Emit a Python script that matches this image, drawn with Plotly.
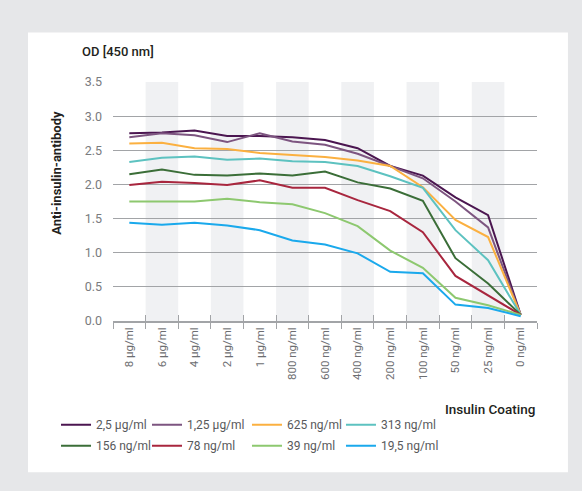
import plotly.graph_objects as go

categories = ["8 µg/ml", "6 µg/ml", "4 µg/ml", "2 µg/ml", "1 µg/ml", "800 ng/ml", "600 ng/ml",
              "400 ng/ml", "200 ng/ml", "100 ng/ml", "50 ng/ml", "25 ng/ml", "0 ng/ml"]

s_2_5ug = [2.75, 2.76, 2.79, 2.71, 2.71, 2.69, 2.65, 2.53, 2.27, 2.13, 1.81, 1.55, 0.09]
s_1_25ug = [2.69, 2.75, 2.72, 2.62, 2.75, 2.63, 2.58, 2.45, 2.27, 2.09, 1.75, 1.37, 0.09]
s_625ng = [2.60, 2.61, 2.53, 2.52, 2.46, 2.43, 2.40, 2.35, 2.27, 1.96, 1.48, 1.23, 0.09]
s_313ng = [2.33, 2.39, 2.41, 2.36, 2.38, 2.34, 2.33, 2.27, 2.12, 1.95, 1.33, 0.89, 0.09]
s_156ng = [2.15, 2.22, 2.14, 2.13, 2.16, 2.13, 2.19, 2.03, 1.94, 1.76, 0.92, 0.55, 0.09]
s_78ng = [1.99, 2.04, 2.02, 1.99, 2.06, 1.95, 1.95, 1.77, 1.61, 1.30, 0.66, 0.38, 0.09]
s_39ng = [1.75, 1.75, 1.75, 1.79, 1.74, 1.71, 1.58, 1.39, 1.03, 0.78, 0.34, 0.23, 0.09]
s_19_5ng = [1.44, 1.41, 1.44, 1.40, 1.33, 1.18, 1.12, 0.99, 0.72, 0.70, 0.24, 0.19, 0.07]

series_names = ["2,5 µg/ml", "1,25 µg/ml", "625 ng/ml", "313 ng/ml",
                "156 ng/ml", "78 ng/ml", "39 ng/ml", "19,5 ng/ml"]
series_values = [s_2_5ug, s_1_25ug, s_625ng, s_313ng, s_156ng, s_78ng, s_39ng, s_19_5ng]
series_colors = ["#4b1650", "#7d5580", "#fbb040", "#5dc2c0",
                 "#3b6e38", "#a8263e", "#8dc86f", "#1aa9ec"]

y_ticks = [0.0, 0.5, 1.0, 1.5, 2.0, 2.5, 3.0, 3.5]

FONT = "Roboto"
GRID = "#a2a4a7"
BG = "#e6e7e9"

# legend grid: 4 columns x 2 rows, one single-entry legend per series
legend_cols_x = [-0.1344, 0.0802, 0.316, 0.5377]
legend_rows_y = [-0.373, -0.461]

fig = go.Figure()
legend_layout = {}
for k, (name, vals, col) in enumerate(zip(series_names, series_values, series_colors)):
    lname = "legend" if k == 0 else f"legend{k + 1}"
    fig.add_trace(go.Scatter(x=categories, y=vals, name=name, mode="lines",
                             legend=lname, line=dict(color=col, width=2)))
    legend_layout[lname] = dict(
        x=legend_cols_x[k % 4], y=legend_rows_y[k // 4], xanchor="left", yanchor="top",
        orientation="v", font=dict(size=12, color="#58595b", family=FONT),
        bgcolor="rgba(0,0,0,0)")

# dummy trace on overlay axis for inner ticks
fig.add_trace(go.Scatter(x=categories, y=[None] * len(categories), xaxis="x2",
                         showlegend=False, hoverinfo="skip"))

shapes = [dict(type="rect", xref="paper", yref="paper", x0=-0.2005, x1=1.073,
               y0=-0.6326, y1=1.2066, fillcolor="white", line=dict(width=0), layer="below")]
for i in range(1, len(categories), 2):
    shapes.append(dict(type="rect", xref="x", yref="y", x0=i - 0.5, x1=i + 0.5,
                       y0=0, y1=3.5, fillcolor="#f0f1f3", line=dict(width=0), layer="below"))

fig.update_layout(
    width=582, height=491,
    margin=dict(l=113, r=45, t=82, b=170, autoexpand=False),
    paper_bgcolor=BG,
    plot_bgcolor="rgba(0,0,0,0)",
    font=dict(family=FONT, color="#58595b"),
    shapes=shapes,
    xaxis=dict(type="category", range=[-0.5, 12.5], showgrid=False, zeroline=False,
               showline=True, linecolor=GRID, linewidth=1.5,
               ticks="outside", ticklen=6, tickcolor=GRID, tickwidth=1.2,
               tickson="boundaries", tickangle=-90, automargin=False,
               tickfont=dict(size=11.5, color="#6d6e71", family=FONT)),
    xaxis2=dict(type="category", range=[-0.5, 12.5], overlaying="x", anchor="y",
                side="bottom", showgrid=False, zeroline=False, showline=False,
                ticks="inside", ticklen=6, tickcolor=GRID, tickwidth=1.2,
                tickson="boundaries", showticklabels=False),
    yaxis=dict(range=[0, 3.5], tickvals=y_ticks, ticktext=[f"{v:.1f}" for v in y_ticks],
               showgrid=True, gridcolor=GRID, gridwidth=1.2, zeroline=False,
               showline=False, ticks="", ticklabelstandoff=10, automargin=False,
               tickfont=dict(size=12.5, color="#7a7b7e", family=FONT)),
    showlegend=True,
    annotations=[
        dict(text="OD [450 nm]", xref="paper", yref="paper", x=-0.078, y=1.127,
             xanchor="left", yanchor="middle", showarrow=False,
             font=dict(size=13, color="#231f20", family=FONT, weight=500)),
        dict(text="<b>Anti-insulin-antibody</b>", xref="paper", yref="paper", x=-0.132, y=0.62,
             xanchor="center", yanchor="middle", textangle=-90, showarrow=False,
             font=dict(size=13, color="#231f20", family=FONT)),
        dict(text="Insulin Coating", xref="paper", yref="paper", x=1.0, y=-0.369,
             xanchor="right", yanchor="middle", showarrow=False,
             font=dict(size=13.5, color="#231f20", family=FONT, weight=500)),
    ],
    **legend_layout,
)

fig.write_html(
    "out.html",
    config={"displayModeBar": False},
    post_script=f"document.body.style.margin='0';document.body.style.background='{BG}';",
)
